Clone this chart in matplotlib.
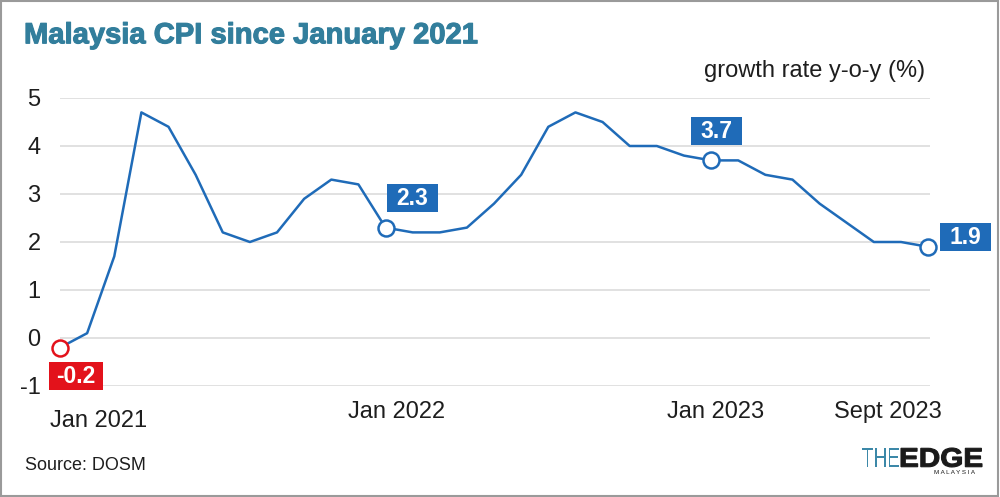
import numpy as np
import matplotlib
matplotlib.use("Agg")
import matplotlib.pyplot as plt
import matplotlib.patheffects as pe
from matplotlib.patches import Rectangle, PathPatch
from matplotlib.textpath import TextPath
from matplotlib.font_manager import FontProperties
from matplotlib.transforms import IdentityTransform, Affine2D

plt.rcParams["font.family"] = ["Liberation Sans", "DejaVu Sans"]

# Malaysia CPI, y-o-y growth (%), Jan 2021 .. Sept 2023
cpi = [-0.2, 0.1, 1.7, 4.7, 4.4, 3.4, 2.2, 2.0, 2.2, 2.9, 3.3, 3.2,
       2.3, 2.2, 2.2, 2.3, 2.8, 3.4, 4.4, 4.7, 4.5, 4.0, 4.0, 3.8,
       3.7, 3.7, 3.4, 3.3, 2.8, 2.4, 2.0, 2.0, 1.9]
yticks = [-1, 0, 1, 2, 3, 4, 5]
xlabels = ["Jan 2021", "Jan 2022", "Jan 2023", "Sept 2023"]
xlabel_idx = [0, 12, 24, 32]
# highlighted months and their box colour
callout_idx = [0, 12, 24, 32]
callout_col = ["#e3121b", "#1f6bb8", "#1f6bb8", "#1f6bb8"]

BLUE = "#1f6bb8"
TEAL = "#327e9c"
INK = "#1e1e1e"
PX = 100 / 72  # pixels per point

fig = plt.figure(figsize=(10, 4.97), dpi=100)
ax = fig.add_axes([0.06, 1 - 386 / 497, 0.87, (386 - 98) / 497])
x = np.arange(len(cpi))

ax.set_xlim(0, 32.07)
ax.set_ylim(-1, 5)
for v in yticks:
    ax.axhline(v, color="#dcdcdc", lw=1.2, zorder=0)
ax.plot(x, cpi, color=BLUE, lw=1.8, zorder=2, solid_joinstyle="round")

ax.set_yticks(yticks)
ax.set_yticklabels([str(v) for v in yticks], fontsize=17, color=INK)
ax.tick_params(axis="y", length=0, pad=14)
ax.set_xticks([])
for s in ax.spines.values():
    s.set_visible(False)

# x labels, placed like the original (not strictly centred on the month)
xoff = [(-10, -35), (11, -26), (4, -26), (-40, -26)]
for i, lab, (dx, dy) in zip(xlabel_idx, xlabels, xoff):
    ax.annotate(lab, xy=(i, -1), xytext=(dx / PX, dy / PX),
                textcoords="offset points", ha="left" if i == 0 else "center",
                va="center", fontsize=17, color=INK, annotation_clip=False)

# callout markers and value boxes (box centre offset from marker, in pixels)
box_off = {0: (16, -28), 12: (27, 30), 24: (5, 29), 32: (37, 10)}
for i, col in zip(callout_idx, callout_col):
    ax.plot(i, cpi[i], "o", ms=11.5, mfc="white", mec=col, mew=1.8,
            zorder=4, clip_on=False)
    px, py = ax.transData.transform((i, cpi[i]))
    dx, dy = box_off[i]
    txt = f"{cpi[i]:.1f}"
    w, h = (54 if len(txt) > 3 else 51), 28
    ax.add_patch(Rectangle((px + dx - w / 2, py + dy - h / 2), w, h,
                           transform=IdentityTransform(), fc=col, ec="none",
                           zorder=5, clip_on=False))
    ax.annotate(txt, xy=(i, cpi[i]), xytext=(dx / PX, (dy + 2) / PX),
                textcoords="offset points", ha="center", va="center_baseline",
                fontsize=16.5, fontweight="bold", color="white",
                annotation_clip=False, zorder=6)

fig.text(0.024, 0.929, "Malaysia CPI since January 2021", fontsize=21,
         fontweight="bold", color=TEAL, va="center", ha="left",
         path_effects=[pe.withStroke(linewidth=0.8, foreground=TEAL)])
fig.text(0.925, 0.858, "growth rate y-o-y (%)", fontsize=17, color=INK,
         ha="right", va="center")
fig.text(0.025, 0.064, "Source: DOSM", fontsize=13, color=INK,
         ha="left", va="center")


# logo: text paths squeezed / stretched to the original's proportions
def logo_word(word, weight, color, x0, x1, base, cap, stroke=0.0):
    tp = TextPath((0, 0), word, size=100, prop=FontProperties(
        family="Liberation Sans", weight=weight))
    ext = tp.get_extents()
    sx = (x1 - x0) / ext.width
    sy = cap / ext.height
    tr = Affine2D().translate(-ext.x0, -ext.y0).scale(sx, sy).translate(x0, base)
    fig.patches.append(PathPatch(tr.transform_path(tp), transform=IdentityTransform(),
                                 fc=color, ec=color if stroke else "none", lw=stroke))


logo_word("THE", "normal", "#3c88a8", 862, 899, 30, 19)
logo_word("EDGE", "bold", "#1a1a1a", 901, 982, 30, 19, stroke=0.8)
fig.text(0.954, 0.050, "M A L A Y S I A", fontsize=4.5, color="#1a1a1a",
         ha="center", va="center")

fig.patches.append(Rectangle((0.001, 0.002), 0.997, 0.996, transform=fig.transFigure,
                             fill=False, ec="#9a9a9a", lw=1.5))

fig.savefig("out.png", dpi=100)
